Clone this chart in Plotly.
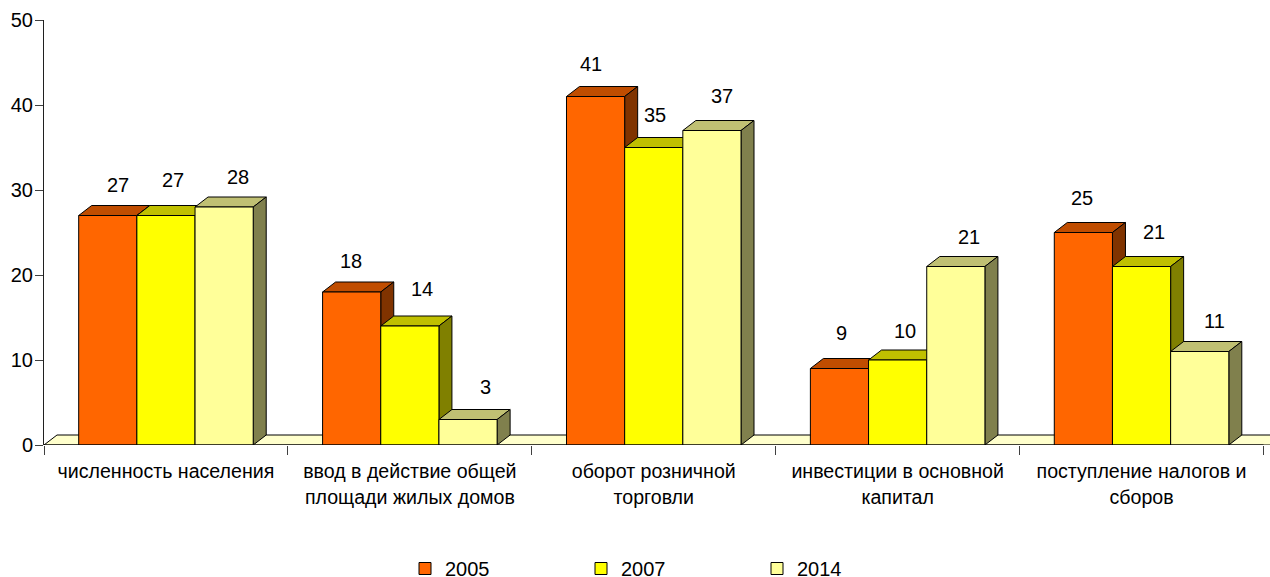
import plotly.graph_objects as go

categories = [
    "численность населения",
    "ввод в действие общей<br>площади жилых домов",
    "оборот розничной<br>торговли",
    "инвестиции в основной<br>капитал",
    "поступление налогов и<br>сборов",
]
series_names = ["2005", "2007", "2014"]
values_2005 = [27, 18, 41, 9, 25]
values_2007 = [27, 14, 35, 10, 21]
values_2014 = [28, 3, 37, 21, 11]
all_values = [values_2005, values_2007, values_2014]

front_colors = ["#FF6600", "#FFFF00", "#FFFF99"]
top_colors = ["#C04D00", "#C0C000", "#C0C073"]
side_colors = ["#803300", "#808000", "#80804D"]
floor_color = "#FFFFCC"

# manual label nudges of the original, in pixels (x right, y up)
label_dx = [[10, 7, 14], [-1, 12, 17], [-5, 1, 10], [2, 7, 13], [-1, 12, 15]]
label_dy = [[31, 36, 30], [31, 37, 33], [33, 33, 35], [36, 29, 30], [35, 35, 31]]

L, T, W, H = 43.5, 20, 1270, 577
AXIS_BOTTOM = 445.5
cat_px = 244.0
unit_px = (AXIS_BOTTOM - T) / 50
bar_w = 58.2 / cat_px
depth_x = 13 / cat_px
depth_y = 10 / unit_px
x_min = -0.5
x_max = x_min + (W - L) / cat_px

shapes = []
# floor of the 3-D box
shapes.append(dict(type="path", layer="below", xref="x", yref="y",
                   path=f"M {x_min} 0 L {x_min + depth_x} {depth_y} L {4.5 + 2 * depth_x} {depth_y} L {4.5 + depth_x} 0 Z",
                   fillcolor=floor_color, line=dict(color="#000000", width=1)))

annotations = []
for s, vals in enumerate(all_values):
    for c, v in enumerate(vals):
        x0 = c + (s - 1.5) * bar_w
        x1 = x0 + bar_w
        shapes.append(dict(type="path", layer="below", xref="x", yref="y",
                           path=f"M {x0} {v} L {x0 + depth_x} {v + depth_y} L {x1 + depth_x} {v + depth_y} L {x1} {v} Z",
                           fillcolor=top_colors[s], line=dict(color="#000000", width=1)))
        shapes.append(dict(type="path", layer="below", xref="x", yref="y",
                           path=f"M {x1} 0 L {x1 + depth_x} {depth_y} L {x1 + depth_x} {v + depth_y} L {x1} {v} Z",
                           fillcolor=side_colors[s], line=dict(color="#000000", width=1)))
        annotations.append(dict(x=(x0 + x1) / 2, y=v, xref="x", yref="y", text=str(v),
                                showarrow=False, xanchor="center", yanchor="middle",
                                xshift=label_dx[c][s], yshift=label_dy[c][s],
                                font=dict(family="Liberation Sans", size=20, color="#000000")))

# baseline of the value axis box
shapes.append(dict(type="line", layer="above", xref="x", yref="y", x0=x_min, x1=4.5, y0=0, y1=0,
                   line=dict(color="#000000", width=1)))

fig = go.Figure()
for s, name in enumerate(series_names):
    fig.add_trace(go.Bar(name=name, x=list(range(len(categories))), y=all_values[s],
                         marker=dict(color=front_colors[s], line=dict(color="#000000", width=1)),
                         width=bar_w))

fig.update_layout(
    width=W, height=H, barmode="group", bargap=1 - 3 * bar_w, bargroupgap=0,
    margin=dict(l=L, r=0, t=T, b=H - AXIS_BOTTOM, pad=0),
    paper_bgcolor="#FFFFFF", plot_bgcolor="#FFFFFF",
    font=dict(family="Liberation Sans", size=20, color="#000000"),
    shapes=shapes, annotations=annotations,
    legend=dict(orientation="h", x=405 / W, xanchor="left", xref="container", y=(H - 549) / H, yanchor="top",
                yref="container", entrywidth=131, entrywidthmode="pixels", traceorder="normal",
                font=dict(size=20), bgcolor="rgba(0,0,0,0)"),
    xaxis=dict(range=[x_min, x_max], tickmode="array", tickvals=list(range(len(categories))),
               ticktext=[f'<span style="font-size:19.6px">{t}</span>' for t in categories],
               tickfont=dict(size=20), ticks="outside", ticklen=8, tickcolor="rgba(0,0,0,0)",
               showgrid=False, zeroline=False, showline=False,
               minor=dict(tick0=-0.5, dtick=1, ticks="outside", ticklen=9, tickwidth=1,
                          tickcolor="#404040", showgrid=False)),
    yaxis=dict(range=[0, 50], tick0=0, dtick=10, ticks="outside", ticklen=8, tickwidth=1,
               tickcolor="#404040", showline=True, linecolor="#202020", linewidth=1,
               showgrid=False, zeroline=False, tickfont=dict(size=20), ticklabelstandoff=-2),
)

fig.write_html("out.html", config=dict(displayModeBar=False),
               post_script="document.body.style.margin='0';")
